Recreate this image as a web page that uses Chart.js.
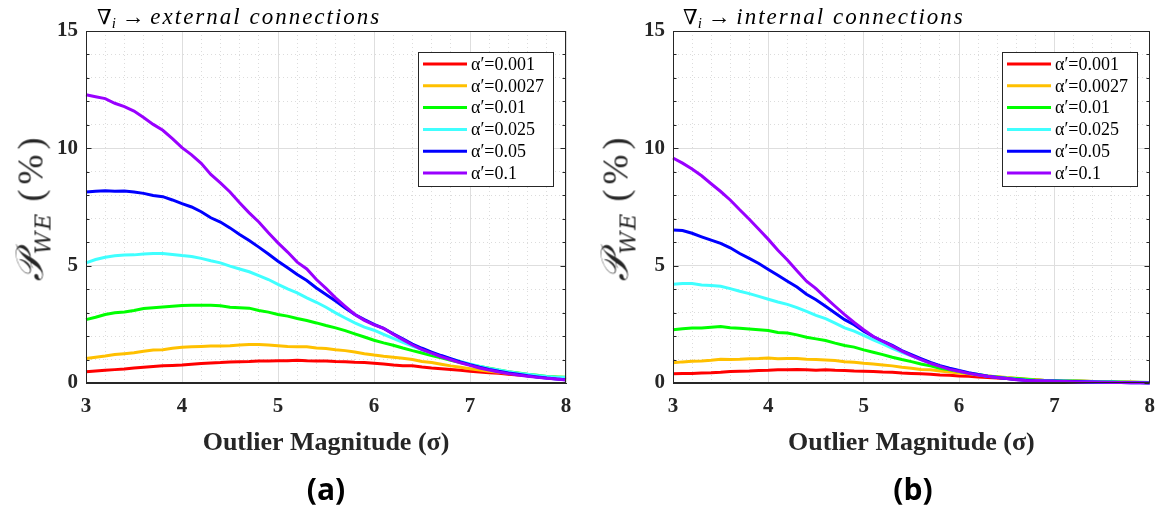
<!DOCTYPE html>
<html lang="en">
<head>
<meta charset="UTF-8">
<title>Outlier magnitude vs P_WE</title>
<script src="https://cdn.jsdelivr.net/npm/chart.js"></script>
<style>
  body { margin: 0; width: 1166px; height: 509px; background: #fff; position: relative; overflow: hidden; }
  .panel { position: absolute; top: 0; width: 583px; height: 509px; }
  .ptitle { position: absolute; top: 0; height: 34px; line-height: 34px; white-space: nowrap;
            font-family: "Liberation Serif", serif; font-size: 23px; color: #000; }
  .ptitle .nab { font-family: "DejaVu Serif", serif; font-size: 21px; }
  .ptitle i { letter-spacing: 2px; }
  .ptitle sub { font-size: 15px; font-style: italic; vertical-align: -4px; line-height: 0; }
  .caption { position: absolute; top: 468px; width: 200px; text-align: center;
             font-family: "Open Sans", sans-serif; font-weight: 700; font-size: 30px; color: #000; }
  .ylab { position: absolute; top: 207px; white-space: nowrap; color: #262626;
          transform: translate(-50%, -50%) rotate(-90deg);
          font-family: "DejaVu Serif", "Liberation Serif", serif; }
  .ylab .cal { font-size: 38px; font-style: italic; }
  .ylab sub { font-size: 22px; font-style: italic; letter-spacing: 2px; vertical-align: -8px; line-height: 0; }
  .ylab .pct { font-family: "Liberation Serif", serif; font-size: 36px; letter-spacing: 5px; margin-left: 10px; }
</style>
</head>
<body>
<div class="panel" style="left:0"><canvas id="chartA"></canvas></div>
<div class="panel" style="left:583px"><canvas id="chartB"></canvas></div>

<div class="ptitle" style="left:97px"><span class="nab">∇</span><sub>i</sub> → <i>external connections</i></div>
<div class="ptitle" style="left:683px"><span class="nab">∇</span><sub>i</sub> → <i>internal connections</i></div>

<div class="ylab" style="left:30px"><span class="cal">𝒫</span><sub>WE</sub><span class="pct">(%)</span></div>
<div class="ylab" style="left:615px"><span class="cal">𝒫</span><sub>WE</sub><span class="pct">(%)</span></div>

<div class="caption" style="left:226px">(a)</div>
<div class="caption" style="left:813px">(b)</div>

<script>
// x positions (outlier magnitude, sigma)
const xs = [3.0, 3.1, 3.2, 3.3, 3.4, 3.5, 3.6, 3.7, 3.8, 3.9,
            4.0, 4.1, 4.2, 4.3, 4.4, 4.5, 4.6, 4.7, 4.8, 4.9,
            5.0, 5.1, 5.2, 5.3, 5.4, 5.5, 5.6, 5.7, 5.8, 5.9,
            6.0, 6.1, 6.2, 6.3, 6.4, 6.5, 6.6, 6.7, 6.8, 6.9,
            7.0, 7.1, 7.2, 7.3, 7.4, 7.5, 7.6, 7.7, 7.8, 7.9, 8.0];

const alphaLabels = ['α′=0.001', 'α′=0.0027', 'α′=0.01', 'α′=0.025', 'α′=0.05', 'α′=0.1'];
const lineColors = ['#ff0000', '#ffc000', '#00ff00', '#40ffff', '#0000ff', '#9900ff'];

const xTickLabels = [3, 4, 5, 6, 7, 8];
const yTickLabels = [0, 5, 10, 15];

// (a) external connections
const redA = [0.48,0.51,0.54,0.57,0.60,0.64,0.67,0.70,0.73,0.75, 0.77,0.80,0.83,0.85,0.87,0.90,0.91,0.92,0.94,0.94,
              0.95,0.95,0.97,0.95,0.94,0.94,0.92,0.91,0.88,0.87, 0.84,0.81,0.77,0.74,0.73,0.68,0.64,0.61,0.58,0.54,
              0.50,0.47,0.44,0.41,0.37,0.34,0.31,0.27,0.24,0.21, 0.18];
const yellowA = [1.04,1.10,1.15,1.21,1.25,1.29,1.35,1.41,1.42,1.48, 1.52,1.54,1.56,1.58,1.58,1.59,1.62,1.64,1.64,1.62,
                 1.59,1.56,1.55,1.54,1.49,1.47,1.42,1.38,1.32,1.25, 1.19,1.14,1.10,1.05,1.00,0.92,0.87,0.80,0.73,0.67,
                 0.61,0.55,0.50,0.46,0.41,0.37,0.33,0.30,0.27,0.24, 0.23];
const greenA = [2.70,2.80,2.92,2.99,3.03,3.09,3.17,3.21,3.24,3.27, 3.30,3.31,3.31,3.31,3.29,3.23,3.21,3.19,3.09,3.02,
                2.92,2.85,2.75,2.66,2.56,2.45,2.35,2.23,2.09,1.96, 1.82,1.71,1.61,1.49,1.38,1.28,1.17,1.07,0.97,0.87,
                0.78,0.70,0.63,0.55,0.48,0.43,0.37,0.33,0.28,0.26, 0.24];
const cyanA = [5.12,5.26,5.36,5.42,5.45,5.46,5.50,5.52,5.52,5.48, 5.43,5.39,5.31,5.21,5.12,4.98,4.86,4.74,4.58,4.41,
               4.20,4.01,3.84,3.63,3.44,3.23,2.99,2.77,2.56,2.38, 2.25,2.07,1.90,1.73,1.57,1.42,1.28,1.15,1.03,0.92,
               0.81,0.71,0.62,0.55,0.48,0.42,0.37,0.32,0.28,0.25, 0.23];
const blueA = [8.14,8.17,8.19,8.17,8.18,8.14,8.08,7.99,7.94,7.80, 7.64,7.50,7.30,7.04,6.86,6.61,6.33,6.07,5.79,5.50,
               5.19,4.91,4.62,4.37,4.05,3.77,3.49,3.20,2.92,2.70, 2.50,2.33,2.10,1.88,1.66,1.48,1.32,1.17,1.04,0.90,
               0.78,0.67,0.58,0.50,0.43,0.37,0.31,0.26,0.21,0.17, 0.14];
const purpleA = [12.28,12.20,12.12,11.92,11.78,11.59,11.31,11.02,10.77,10.41, 10.03,9.72,9.36,8.89,8.53,8.14,7.68,7.25,6.86,6.40,
                 5.97,5.58,5.15,4.86,4.41,4.03,3.63,3.27,2.92,2.67, 2.48,2.33,2.08,1.85,1.62,1.42,1.27,1.12,0.99,0.86,
                 0.75,0.64,0.55,0.47,0.40,0.34,0.29,0.24,0.20,0.17, 0.13];

// (b) internal connections
const redB = [0.39,0.40,0.41,0.43,0.44,0.46,0.49,0.50,0.51,0.53, 0.54,0.56,0.56,0.57,0.56,0.54,0.56,0.54,0.53,0.51,
              0.50,0.49,0.47,0.46,0.43,0.41,0.39,0.37,0.34,0.33, 0.30,0.29,0.26,0.23,0.21,0.19,0.17,0.14,0.13,0.11,
              0.10,0.09,0.08,0.07,0.06,0.05,0.04,0.03,0.03,0.02, 0.02];
const yellowB = [0.86,0.90,0.93,0.94,0.97,1.01,1.00,1.01,1.03,1.04, 1.07,1.03,1.04,1.04,1.01,1.00,0.98,0.96,0.91,0.88,
                 0.84,0.81,0.77,0.73,0.67,0.63,0.58,0.56,0.51,0.47, 0.43,0.39,0.34,0.30,0.27,0.23,0.20,0.17,0.14,0.11,
                 0.10,0.09,0.08,0.07,0.06,0.05,0.04,0.04,0.03,0.02, 0.02];
const greenB = [2.27,2.31,2.34,2.34,2.38,2.41,2.35,2.33,2.30,2.27, 2.24,2.15,2.13,2.05,1.95,1.88,1.81,1.70,1.60,1.53,
                1.41,1.31,1.21,1.10,1.00,0.91,0.81,0.73,0.63,0.56, 0.49,0.41,0.36,0.30,0.26,0.21,0.19,0.16,0.13,0.11,
                0.10,0.09,0.08,0.07,0.06,0.05,0.05,0.04,0.03,0.03, 0.02];
const cyanB = [4.21,4.24,4.24,4.18,4.15,4.12,4.02,3.91,3.81,3.69, 3.57,3.45,3.35,3.21,3.05,2.88,2.74,2.55,2.35,2.21,
               2.03,1.84,1.67,1.48,1.31,1.16,1.00,0.86,0.73,0.61, 0.51,0.43,0.36,0.29,0.24,0.20,0.16,0.13,0.11,0.10,
               0.09,0.08,0.07,0.06,0.05,0.04,0.04,0.03,0.02,0.02, 0.01];
const blueB = [6.52,6.50,6.38,6.23,6.09,5.95,5.76,5.52,5.31,5.09, 4.84,4.59,4.34,4.09,3.78,3.55,3.27,2.98,2.70,2.48,
               2.21,1.98,1.78,1.60,1.38,1.21,1.04,0.88,0.74,0.63, 0.53,0.44,0.36,0.29,0.23,0.19,0.15,0.12,0.10,0.09,
               0.08,0.07,0.06,0.05,0.04,0.03,0.03,0.02,0.01,0.01, 0.00];
const purpleB = [9.59,9.37,9.12,8.83,8.49,8.16,7.80,7.38,6.98,6.55, 6.12,5.66,5.24,4.78,4.34,4.02,3.64,3.27,2.91,2.58,
                 2.27,1.98,1.78,1.57,1.36,1.17,1.00,0.84,0.71,0.58, 0.50,0.41,0.34,0.29,0.23,0.19,0.14,0.11,0.10,0.09,
                 0.07,0.06,0.05,0.04,0.04,0.03,0.02,0.02,0.01,0.01, 0.00];

const inkColor = '#262626';
const tickFont = { family: 'Liberation Serif', size: 21, weight: 'bold' };

const isOn = (v, list) => list.some(t => Math.abs(v - t) < 1e-6);

function buildDatasets(series) {
    return series.map((vals, i) => ({
        label: alphaLabels[i],
        data: xs.map((x, j) => ({ x: x, y: vals[j] })),
        borderColor: lineColors[i],
        backgroundColor: lineColors[i],
        borderWidth: 3,
        pointRadius: 0,
        tension: 0,
        fill: false,
        clip: false,
        order: series.length - 1 - i   // last series (α'=0.1) drawn on top
    }));
}

// box around the plot + inward ticks on left/right
const framePlugin = {
    id: 'frame',
    afterDatasetsDraw(chart) {
        const { ctx, chartArea: a, scales: { y } } = chart;
        ctx.save();
        ctx.strokeStyle = inkColor;
        ctx.lineWidth = 1;
        const l = Math.round(a.left) + 0.5, r = Math.round(a.right) - 0.5;
        const t = Math.round(a.top) + 0.5, b = Math.round(a.bottom) - 0.5;
        ctx.strokeRect(l, t, r - l, b - t);
        ctx.beginPath();
        y.ticks.forEach(tk => {
            const py = Math.round(y.getPixelForValue(tk.value)) + 0.5;
            const len = isOn(tk.value, yTickLabels) ? 5 : 3;
            ctx.moveTo(l, py); ctx.lineTo(l + len, py);
            ctx.moveTo(r, py); ctx.lineTo(r - len, py);
        });
        ctx.stroke();
        ctx.restore();
    }
};

// boxed legend in the upper right corner of the plot
const boxLegendPlugin = {
    id: 'boxLegend',
    afterDraw(chart) {
        const { ctx, chartArea: a } = chart;
        const w = 135, h = 134;
        const left = Math.round(a.right) - 13 - w, top = Math.round(a.top) + 21;
        ctx.save();
        ctx.fillStyle = '#fff';
        ctx.fillRect(left, top, w, h);
        ctx.strokeStyle = inkColor;
        ctx.lineWidth = 1;
        ctx.strokeRect(left + 0.5, top + 0.5, w, h);
        chart.data.datasets.forEach((ds, i) => {
            const cy = top + 12 + i * 21.8;
            ctx.strokeStyle = ds.borderColor;
            ctx.lineWidth = 3;
            ctx.beginPath();
            ctx.moveTo(left + 5, cy);
            ctx.lineTo(left + 49, cy);
            ctx.stroke();
            ctx.fillStyle = '#000';
            ctx.textBaseline = 'middle';
            ctx.font = '18px "Liberation Serif"';
            ctx.fillText(ds.label, left + 53, cy + 1);
        });
        ctx.restore();
    }
};

function makeChart(canvasId, series, axisWidth, padRight) {
    const ctx = document.getElementById(canvasId).getContext('2d');
    return new Chart(ctx, {
        type: 'line',
        data: { datasets: buildDatasets(series) },
        options: {
            animation: false,
            responsive: true,
            maintainAspectRatio: false,
            layout: { padding: { top: 31, right: padRight, left: 0, bottom: 0 } },
            plugins: { legend: { display: false }, tooltip: { enabled: false } },
            scales: {
                x: {
                    type: 'linear',
                    min: 3,
                    max: 8,
                    afterFit: s => { s.height = 126; },
                    ticks: {
                        stepSize: 0.2,
                        autoSkip: false,
                        maxRotation: 0,
                        padding: 11,
                        color: inkColor,
                        font: tickFont,
                        callback: v => isOn(v, xTickLabels) ? Math.round(v) : ''
                    },
                    grid: {
                        drawTicks: false,
                        lineWidth: 1,
                        color: c => (c.tick && isOn(c.tick.value, xTickLabels)) ? '#dedede' : '#dcdcdc'
                    },
                    border: {
                        color: inkColor,
                        dash: c => (c.tick && !isOn(c.tick.value, xTickLabels)) ? [1, 3] : []
                    },
                    title: {
                        display: true,
                        text: 'Outlier Magnitude (σ)',
                        color: inkColor,
                        font: { family: 'Liberation Serif', size: 26, weight: 'bold' },
                        padding: { top: 0, bottom: 50 }
                    }
                },
                y: {
                    type: 'linear',
                    min: 0,
                    max: 15,
                    afterFit: s => { s.width = axisWidth; },
                    ticks: {
                        stepSize: 1,
                        autoSkip: false,
                        padding: 8,
                        color: inkColor,
                        font: tickFont,
                        callback: v => isOn(v, yTickLabels) ? v : ''
                    },
                    grid: {
                        drawTicks: false,
                        lineWidth: 1,
                        color: c => (c.tick && isOn(c.tick.value, yTickLabels)) ? '#dedede' : '#dcdcdc'
                    },
                    border: {
                        color: inkColor,
                        dash: c => (c.tick && !isOn(c.tick.value, yTickLabels)) ? [1, 3] : []
                    }
                }
            }
        },
        plugins: [framePlugin, boxLegendPlugin]
    });
}

makeChart('chartA', [redA, yellowA, greenA, cyanA, blueA, purpleA], 86, 17);
makeChart('chartB', [redB, yellowB, greenB, cyanB, blueB, purpleB], 90, 13);
</script>
</body>
</html>
